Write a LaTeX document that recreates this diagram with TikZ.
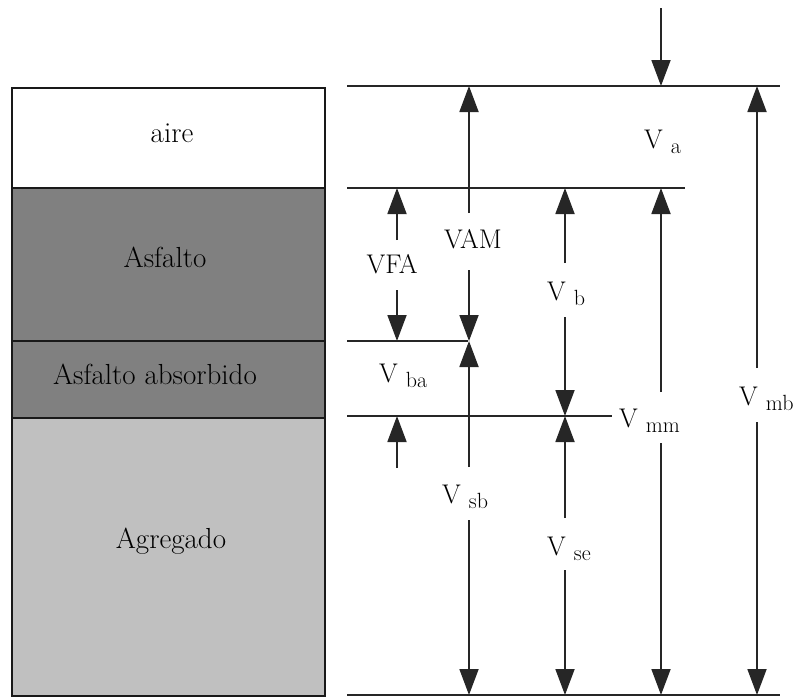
\documentclass[tikz,border=0pt]{standalone}
\usetikzlibrary{arrows.meta}
\definecolor{asf}{HTML}{808080}
\definecolor{agr}{HTML}{C0C0C0}
\newcommand{\lyfont}{\rmfamily\fontsize{29}{32}\selectfont}
\newcommand{\lbfont}{\rmfamily\fontsize{27}{30}\selectfont}
\newcommand{\sbfont}{\rmfamily\fontsize{22}{24}\selectfont}
\newcommand{\Vsub}[1]{V\hspace{8pt}{\sbfont\raisebox{-5pt}{#1}}}
\begin{document}
\begin{tikzpicture}[x=1pt,y=-1pt,
  layer/.style={draw=black!90, line width=2pt, minimum width=313pt, anchor=north west, inner sep=0pt},
  txt/.style={font=\lyfont, inner sep=0pt, anchor=base},
  dtxt/.style={font=\lbfont, inner sep=0pt, anchor=base},
  vlbl/.style={font=\lbfont, inner sep=0pt, anchor=base west},
  hline/.style={line width=1.8pt, black!85},
  dim/.style={line width=1.8pt, black!85, -{Triangle[length=26pt,width=19pt]}}]
\useasboundingbox (0,0) rectangle (797,696);

% layers
\node[layer, fill=white, minimum height=100pt] (aire) at (11,87) {};
\node[layer, fill=asf, minimum height=153pt] (asfalto) at (11,187) {};
\node[layer, fill=asf, minimum height=77pt] (absorb) at (11,340) {};
\node[layer, fill=agr, minimum height=278pt] (agreg) at (11,417) {};

\node[txt] (taire) at (172,142) {aire};
\node[txt] (tasf) at (165,267) {Asfalto};
\node[txt] (tabs) at (155,384) {Asfalto absorbido};
\node[txt] (tagr) at (171,548) {Agregado};

% horizontal lines
\coordinate (l1a) at (347,86);  \coordinate (l1b) at (780,86);
\coordinate (l2a) at (347,188); \coordinate (l2b) at (685,188);
\coordinate (l3a) at (347,341); \coordinate (l3b) at (468,341);
\coordinate (l4a) at (347,416); \coordinate (l4b) at (612,416);
\coordinate (l5a) at (347,695); \coordinate (l5b) at (780,695);
\draw[hline] (l1a) -- (l1b);
\draw[hline] (l2a) -- (l2b);
\draw[hline] (l3a) -- (l3b);
\draw[hline] (l4a) -- (l4b);
\draw[hline] (l5a) -- (l5b);

% arrow tails and tips
\coordinate (top0) at (661,8);    \coordinate (top1) at (661,86);
\coordinate (fa0) at (397,240);   \coordinate (fa1) at (397,188);
\coordinate (fb0) at (397,290);   \coordinate (fb1) at (397,341);
\coordinate (fc0) at (397,468);   \coordinate (fc1) at (397,416);
\coordinate (ma0) at (469,213);   \coordinate (ma1) at (469,86);
\coordinate (mb0) at (469,270);   \coordinate (mb1) at (469,341);
\coordinate (sa0) at (469,467);   \coordinate (sa1) at (469,341);
\coordinate (sb0) at (469,520);   \coordinate (sb1) at (469,695);
\coordinate (ba0) at (565,263);   \coordinate (ba1) at (565,188);
\coordinate (bb0) at (565,317);   \coordinate (bb1) at (565,416);
\coordinate (ea0) at (565,518);   \coordinate (ea1) at (565,416);
\coordinate (eb0) at (565,570);   \coordinate (eb1) at (565,695);
\coordinate (mma0) at (661,392);  \coordinate (mma1) at (661,188);
\coordinate (mmb0) at (661,443);  \coordinate (mmb1) at (661,695);
\coordinate (mba0) at (757,368);  \coordinate (mba1) at (757,86);
\coordinate (mbb0) at (757,422);  \coordinate (mbb1) at (757,695);

\draw[dim] (top0) -- (top1);
\draw[dim] (fa0) -- (fa1);
\draw[dim] (fb0) -- (fb1);
\draw[dim] (fc0) -- (fc1);
\draw[dim] (ma0) -- (ma1);
\draw[dim] (mb0) -- (mb1);
\draw[dim] (sa0) -- (sa1);
\draw[dim] (sb0) -- (sb1);
\draw[dim] (ba0) -- (ba1);
\draw[dim] (bb0) -- (bb1);
\draw[dim] (ea0) -- (ea1);
\draw[dim] (eb0) -- (eb1);
\draw[dim] (mma0) -- (mma1);
\draw[dim] (mmb0) -- (mmb1);
\draw[dim] (mba0) -- (mba1);
\draw[dim] (mbb0) -- (mbb1);

% labels
\node[dtxt] (vfa) at (392,273) {VFA};
\node[dtxt] (vam) at (473,248) {VAM};
\node[vlbl] (va) at (644,148) {\Vsub{a}};
\node[vlbl] (vb) at (547,300) {\Vsub{b}};
\node[vlbl] (vba) at (379,382) {\Vsub{ba}};
\node[vlbl] (vmb) at (739,405) {\Vsub{mb}};
\node[vlbl] (vmm) at (619,427) {\Vsub{mm}};
\node[vlbl] (vsb) at (442,503) {\Vsub{sb}};
\node[vlbl] (vse) at (547,555) {\Vsub{se}};
\end{tikzpicture}
\end{document}
